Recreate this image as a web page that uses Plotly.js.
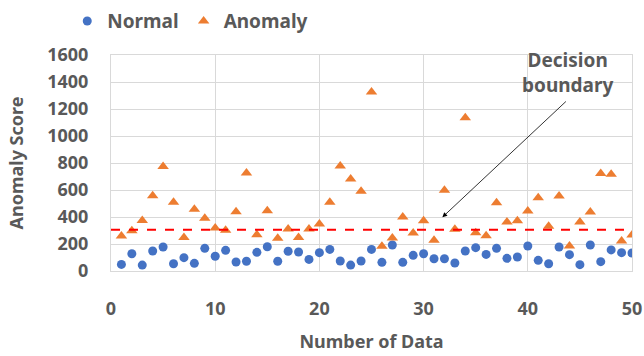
<!DOCTYPE html>
<html><head><meta charset="utf-8">
<script src="https://cdn.plot.ly/plotly-3.0.1.min.js"></script>
<style>html,body{margin:0;padding:0;background:#fff}#c{width:644px;height:356px}</style>
</head><body><div id="c"></div>
<script>
const dataIndex = [1,2,3,4,5,6,7,8,9,10,11,12,13,14,15,16,17,18,19,20,21,22,23,24,25,26,27,28,29,30,31,32,33,34,35,36,37,38,39,40,41,42,43,44,45,46,47,48,49,50];
const normalScores = [49,128,44,148,178,54,99,57,168,109,153,67,72,138,180,72,146,141,86,136,160,74,44,74,160,64,193,64,116,128,91,91,59,148,173,123,168,94,104,185,79,54,178,121,47,193,69,156,136,133];
const anomalyScores = [259,299,375,558,775,509,249,457,390,318,301,439,726,269,447,242,311,249,311,348,509,778,681,590,1326,183,244,400,281,373,227,598,309,1136,284,262,506,363,373,444,543,331,556,185,363,437,723,716,222,267];
const decisionBoundary = [305];
const seriesNames = ["Normal", "Anomaly"];
const xTicks = [0,10,20,30,40,50];
const yTicks = [0,200,400,600,800,1000,1200,1400,1600];
const arrowFrom = [43.8, 1266];
const arrowTo = [31.8, 398];
const noteText = "Decision<br>boundary";
const notePos = [43.8, 1474];

const FONT = '"Noto Sans", "Noto Sans CJK KR", sans-serif';
const GRAY = '#595959';
const tf = (s) => ({family: FONT, size: s, color: GRAY, weight: 'bold'});

const traces = [
  {x: dataIndex, y: normalScores, name: seriesNames[0], type: 'scatter', mode: 'markers',
   marker: {symbol: 'circle', size: 9, color: '#4472C4'}},
  {x: dataIndex, y: anomalyScores, name: seriesNames[1], type: 'scatter', mode: 'markers',
   marker: {symbol: 'triangle-up', size: 10, color: '#ED7D31'}}
];

const layout = {
  width: 644, height: 356,
  margin: {l: 111, r: 12, t: 55, b: 85},
  paper_bgcolor: '#fff', plot_bgcolor: '#fff',
  font: tf(16),
  showlegend: true,
  legend: {orientation: 'h', x: -0.084, xref: 'paper', y: 0.994, yref: 'container', yanchor: 'top', xanchor: 'left',
           font: tf(19), itemwidth: 30, bgcolor: 'rgba(0,0,0,0)'},
  xaxis: {range: [0, 50], tickvals: xTicks, ticktext: xTicks.map(String), showgrid: true, gridcolor: '#d9d9d9', gridwidth: 1,
          zeroline: false, showline: true, linecolor: '#d9d9d9', mirror: true, ticks: '',
          ticklabelstandoff: 21, tickfont: tf(18),
          title: {text: 'Number of Data', font: tf(18), standoff: 16}},
  yaxis: {range: [0, 1600], tickvals: yTicks, ticktext: yTicks.map(String), showgrid: true, gridcolor: '#d9d9d9', gridwidth: 1,
          zeroline: false, showline: true, linecolor: '#d9d9d9', mirror: true, ticks: '',
          ticklabelstandoff: 18, tickfont: tf(18),
          title: {text: 'Anomaly Score', font: tf(18), standoff: 18}},
  shapes: [
    {type: 'line', xref: 'x', yref: 'y', x0: 0, x1: 50, y0: decisionBoundary[0], y1: decisionBoundary[0],
     line: {color: '#FF0000', width: 2, dash: 'dash'}}
  ],
  annotations: [
    {x: arrowTo[0], y: arrowTo[1], ax: arrowFrom[0], ay: arrowFrom[1], xref: 'x', yref: 'y', axref: 'x', ayref: 'y',
     text: '', showarrow: true, arrowhead: 2, arrowsize: 1.2, arrowwidth: 0.8, arrowcolor: '#000'},
    {x: notePos[0], y: notePos[1], xref: 'x', yref: 'y', text: noteText, showarrow: false,
     font: tf(19), align: 'center'}
  ]
};

Plotly.newPlot('c', traces, layout, {displayModeBar: false, staticPlot: true});
</script>
</body></html>
